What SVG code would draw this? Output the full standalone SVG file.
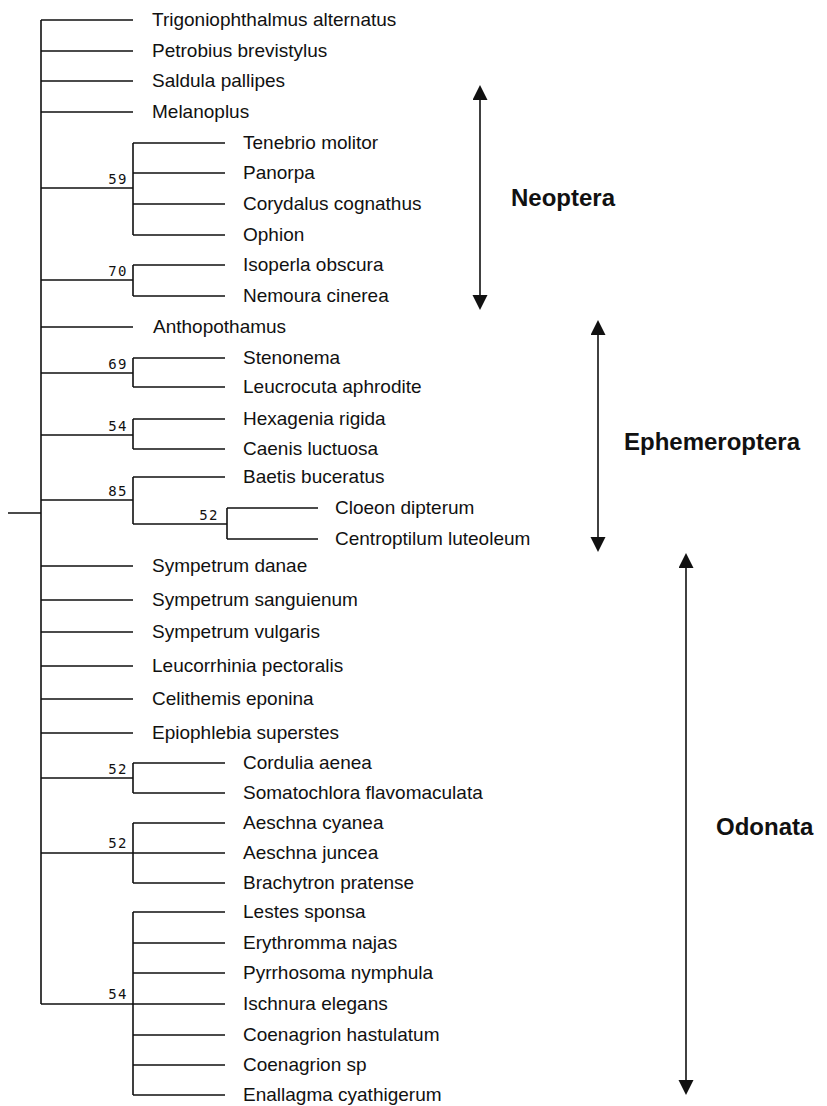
<svg xmlns="http://www.w3.org/2000/svg" width="827" height="1106" viewBox="0 0 827 1106">
<style>
.t{font-family:"Liberation Sans",Arial,sans-serif;font-size:19px;fill:#111}
.n{font-family:"DejaVu Sans Mono","Liberation Mono",monospace;font-size:14px;letter-spacing:1.5px;fill:#111;text-anchor:end}
.g{font-family:"Liberation Sans",Arial,sans-serif;font-size:24px;font-weight:bold;fill:#111}
.l{stroke:#111;stroke-width:1.6;fill:none}
.a{stroke:#111;stroke-width:1.6;fill:none;marker-start:url(#ah);marker-end:url(#ah)}
</style>
<defs>
<marker id="ah" markerUnits="userSpaceOnUse" markerWidth="16" markerHeight="16" refX="3" refY="7.5" orient="auto-start-reverse" viewBox="0 0 16 16">
<path d="M0,0 L15,7.5 L0,15 Z" fill="#111"/>
</marker>
</defs>
<rect width="827" height="1106" fill="#fff"/>
<g id="connectors">
<path class="l" d="M8,513H41 M41,20V1004"/>
<path class="l" d="M41,20H133 M41,51H133 M41,81H133 M41,112H133 M41,327H133 M41,566H133 M41,600H133 M41,632H133 M41,666H133 M41,699H133 M41,733H133"/>
<path class="l" d="M41,188H133 M133,143V235 M133,143H225 M133,173H225 M133,204H225 M133,235H225"/>
<path class="l" d="M41,280H133 M133,265V296 M133,265H225 M133,296H225"/>
<path class="l" d="M41,373H133 M133,358V387 M133,358H225 M133,387H225"/>
<path class="l" d="M41,435H133 M133,419V449 M133,419H225 M133,449H225"/>
<path class="l" d="M41,500H133 M133,477V524 M133,477H225 M133,524H227 M227,508V539 M227,508H318 M227,539H318"/>
<path class="l" d="M41,778H133 M133,763V793 M133,763H225 M133,793H225"/>
<path class="l" d="M41,853H133 M133,823V883 M133,823H225 M133,853H225 M133,883H225"/>
<path class="l" d="M41,1004H133 M133,912V1095 M133,912H225 M133,943H225 M133,973H225 M133,1004H225 M133,1035H225 M133,1065H225 M133,1095H225"/>
</g>
<g id="leaves">
<g id="n-trigoniophthalmus"><text class="t" x="152" y="26">Trigoniophthalmus alternatus</text></g>
<g id="n-petrobius"><text class="t" x="152" y="57">Petrobius brevistylus</text></g>
<g id="n-saldula"><text class="t" x="152" y="87">Saldula pallipes</text></g>
<g id="n-melanoplus"><text class="t" x="152" y="118">Melanoplus</text></g>
<g id="n-tenebrio"><text class="t" x="243" y="149">Tenebrio molitor</text></g>
<g id="n-panorpa"><text class="t" x="243" y="179">Panorpa</text></g>
<g id="n-corydalus"><text class="t" x="243" y="210">Corydalus cognathus</text></g>
<g id="n-ophion"><text class="t" x="243" y="241">Ophion</text></g>
<g id="n-isoperla"><text class="t" x="243" y="271">Isoperla obscura</text></g>
<g id="n-nemoura"><text class="t" x="243" y="302">Nemoura cinerea</text></g>
<g id="n-anthopothamus"><text class="t" x="153" y="333">Anthopothamus</text></g>
<g id="n-stenonema"><text class="t" x="243" y="364">Stenonema</text></g>
<g id="n-leucrocuta"><text class="t" x="243" y="393">Leucrocuta aphrodite</text></g>
<g id="n-hexagenia"><text class="t" x="243" y="425">Hexagenia rigida</text></g>
<g id="n-caenis"><text class="t" x="243" y="455">Caenis luctuosa</text></g>
<g id="n-baetis"><text class="t" x="243" y="483">Baetis buceratus</text></g>
<g id="n-cloeon"><text class="t" x="335" y="514">Cloeon dipterum</text></g>
<g id="n-centroptilum"><text class="t" x="335" y="545">Centroptilum luteoleum</text></g>
<g id="n-sympetrum-danae"><text class="t" x="152" y="572">Sympetrum danae</text></g>
<g id="n-sympetrum-sanguienum"><text class="t" x="152" y="606">Sympetrum sanguienum</text></g>
<g id="n-sympetrum-vulgaris"><text class="t" x="152" y="638">Sympetrum vulgaris</text></g>
<g id="n-leucorrhinia"><text class="t" x="152" y="672">Leucorrhinia pectoralis</text></g>
<g id="n-celithemis"><text class="t" x="152" y="705">Celithemis eponina</text></g>
<g id="n-epiophlebia"><text class="t" x="152" y="739">Epiophlebia superstes</text></g>
<g id="n-cordulia"><text class="t" x="243" y="769">Cordulia aenea</text></g>
<g id="n-somatochlora"><text class="t" x="243" y="799">Somatochlora flavomaculata</text></g>
<g id="n-aeschna-cyanea"><text class="t" x="243" y="829">Aeschna cyanea</text></g>
<g id="n-aeschna-juncea"><text class="t" x="243" y="859">Aeschna juncea</text></g>
<g id="n-brachytron"><text class="t" x="243" y="889">Brachytron pratense</text></g>
<g id="n-lestes"><text class="t" x="243" y="918">Lestes sponsa</text></g>
<g id="n-erythromma"><text class="t" x="243" y="949">Erythromma najas</text></g>
<g id="n-pyrrhosoma"><text class="t" x="243" y="979">Pyrrhosoma nymphula</text></g>
<g id="n-ischnura"><text class="t" x="243" y="1010">Ischnura elegans</text></g>
<g id="n-coenagrion-hastulatum"><text class="t" x="243" y="1041">Coenagrion hastulatum</text></g>
<g id="n-coenagrion-sp"><text class="t" x="243" y="1071">Coenagrion sp</text></g>
<g id="n-enallagma"><text class="t" x="243" y="1101">Enallagma cyathigerum</text></g>
</g>
<g id="support">
<g id="c59"><text class="n" x="128" y="184">59</text></g>
<g id="c70"><text class="n" x="128" y="276">70</text></g>
<g id="c69"><text class="n" x="128" y="369">69</text></g>
<g id="c54a"><text class="n" x="128" y="431">54</text></g>
<g id="c85"><text class="n" x="128" y="496">85</text></g>
<g id="c52a"><text class="n" x="219" y="520">52</text></g>
<g id="c52b"><text class="n" x="128" y="774">52</text></g>
<g id="c52c"><text class="n" x="128" y="848">52</text></g>
<g id="c54b"><text class="n" x="128" y="999">54</text></g>
</g>
<g id="groups">
<g id="neoptera"><line class="a" x1="480" y1="97" x2="480" y2="298"/><text class="g" x="511" y="206">Neoptera</text></g>
<g id="ephemeroptera"><line class="a" x1="598" y1="332" x2="598" y2="540"/><text class="g" x="624" y="450">Ephemeroptera</text></g>
<g id="odonata"><line class="a" x1="686" y1="565" x2="686" y2="1083"/><text class="g" x="716" y="835">Odonata</text></g>
</g>
</svg>
